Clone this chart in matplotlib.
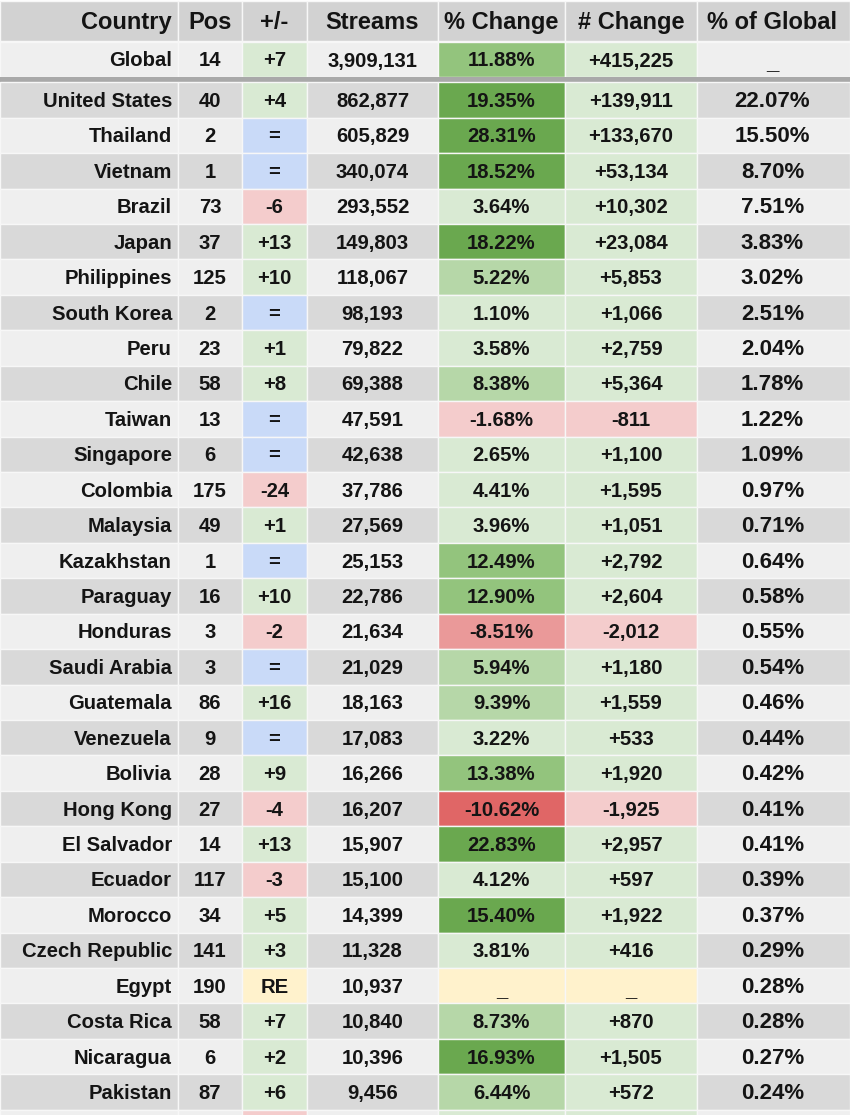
import matplotlib
matplotlib.use("Agg")
import matplotlib.pyplot as plt
from matplotlib.patches import Rectangle

plt.rcParams['font.family'] = ['Liberation Sans', 'DejaVu Sans']

# ---------------- data ----------------
headers = ["Country", "Pos", "+/-", "Streams", "% Change", "# Change", "% of Global"]

global_row = {"pos": 14, "move": "+7", "streams": 3909131, "pct": 11.88, "num": 415225}

countries = ["United States", "Thailand", "Vietnam", "Brazil", "Japan", "Philippines",
             "South Korea", "Peru", "Chile", "Taiwan", "Singapore", "Colombia", "Malaysia",
             "Kazakhstan", "Paraguay", "Honduras", "Saudi Arabia", "Guatemala", "Venezuela",
             "Bolivia", "Hong Kong", "El Salvador", "Ecuador", "Morocco", "Czech Republic",
             "Egypt", "Costa Rica", "Nicaragua", "Pakistan"]
pos = [40, 2, 1, 73, 37, 125, 2, 23, 58, 13, 6, 175, 49, 1, 16, 3, 3, 86, 9, 28, 27, 14,
       117, 34, 141, 190, 58, 6, 87]
move = ["+4", "=", "=", "-6", "+13", "+10", "=", "+1", "+8", "=", "=", "-24", "+1", "=",
        "+10", "-2", "=", "+16", "=", "+9", "-4", "+13", "-3", "+5", "+3", "RE", "+7", "+2", "+6"]
streams = [862877, 605829, 340074, 293552, 149803, 118067, 98193, 79822, 69388, 47591,
           42638, 37786, 27569, 25153, 22786, 21634, 21029, 18163, 17083, 16266, 16207,
           15907, 15100, 14399, 11328, 10937, 10840, 10396, 9456]
pct_change = [19.35, 28.31, 18.52, 3.64, 18.22, 5.22, 1.10, 3.58, 8.38, -1.68, 2.65, 4.41,
              3.96, 12.49, 12.90, -8.51, 5.94, 9.39, 3.22, 13.38, -10.62, 22.83, 4.12,
              15.40, 3.81, None, 8.73, 16.93, 6.44]
num_change = [139911, 133670, 53134, 10302, 23084, 5853, 1066, 2759, 5364, -811, 1100,
              1595, 1051, 2792, 2604, -2012, 1180, 1559, 533, 1920, -1925, 2957, 597,
              1922, 416, None, 870, 1505, 572]
pct_global = [22.07, 15.50, 8.70, 7.51, 3.83, 3.02, 2.51, 2.04, 1.78, 1.22, 1.09, 0.97,
              0.71, 0.64, 0.58, 0.55, 0.54, 0.46, 0.44, 0.42, 0.41, 0.41, 0.39, 0.37,
              0.29, 0.28, 0.28, 0.27, 0.24]

# ---------------- styling ----------------
col_edges = [0, 178, 242, 307, 438, 565, 697, 850]
TXT = "#141414"
HEADER_BG = "#d2d2d2"
DARK_BG = "#d9d9d9"
LIGHT_BG = "#efefef"
GREEN_L = "#d9ead3"
BLUE_L = "#c9daf8"
RED_L = "#f4cccc"
YELLOW_L = "#fff2cc"


def pct_color(v):
    if v is None:
        return YELLOW_L
    if v < 0:
        if v <= -10:
            return "#e06666"
        if v <= -5:
            return "#ea9999"
        return RED_L
    if v >= 15:
        return "#6aa84f"
    if v >= 10:
        return "#93c47d"
    if v >= 5:
        return "#b6d7a8"
    return GREEN_L


def move_color(m):
    if m == "=":
        return BLUE_L
    if m == "RE":
        return YELLOW_L
    if m.startswith("-"):
        return RED_L
    return GREEN_L


def num_color(n):
    if n is None:
        return YELLOW_L
    return RED_L if n < 0 else GREEN_L


def fmt_num(n):
    if n is None:
        return "_"
    return ("+" if n >= 0 else "-") + f"{abs(n):,}"


def fmt_pct(v):
    return "_" if v is None else f"{v:.2f}%"


fig = plt.figure(figsize=(8.5, 11.15), dpi=100)
ax = fig.add_axes([0, 0, 1, 1])
ax.set_xlim(0, 850)
ax.set_ylim(1115, 0)
ax.axis("off")
fig.patch.set_facecolor("white")

BODY = 14.6
HEAD = 17
GLOB = 16


def cell(ci, top, h, color):
    x0, x1 = col_edges[ci], col_edges[ci + 1]
    ax.add_patch(Rectangle((x0, top), x1 - x0, h, facecolor=color,
                           edgecolor="#f7f7f7", linewidth=1.0))


def write_row(top, h, texts, sizes):
    yc = top + h / 2 + 1.5
    for ci, t in enumerate(texts):
        x0, x1 = col_edges[ci], col_edges[ci + 1]
        dy = 3 if t == "_" else 0
        if ci == 0:
            ax.text(x1 - 6, yc + dy, t, ha="right", va="center", fontsize=sizes[ci],
                    fontweight="bold", color=TXT)
        else:
            xc = (x0 + x1) / 2
            if ci == 6:
                xc -= 1
            ax.text(xc, yc + dy, t, ha="center", va="center", fontsize=sizes[ci],
                    fontweight="bold", color=TXT)


# header
hh_top, hh = 1, 40
for ci in range(7):
    cell(ci, hh_top, hh, HEADER_BG)
write_row(hh_top, hh, headers, [HEAD] * 7)

# global row
g_top, g_h = 42, 35
bgs = [LIGHT_BG, LIGHT_BG, move_color(global_row["move"]), LIGHT_BG,
       pct_color(global_row["pct"]), num_color(global_row["num"]), LIGHT_BG]
for ci, c in enumerate(bgs):
    cell(ci, g_top, g_h, c)
write_row(g_top, g_h, ["Global", str(global_row["pos"]), global_row["move"],
                       f"{global_row['streams']:,}", fmt_pct(global_row["pct"]),
                       fmt_num(global_row["num"]), "_"],
          [BODY] * 6 + [GLOB])

# separator under global row
ax.add_patch(Rectangle((0, 77), 850, 4.5, facecolor="#a9a9a9", edgecolor="none"))

# body rows
r0 = 82.3
rh = 35.43
for i, name in enumerate(countries):
    top = r0 + i * rh
    bg = DARK_BG if i % 2 == 0 else LIGHT_BG
    colors = [bg, bg, move_color(move[i]), bg, pct_color(pct_change[i]),
              num_color(num_change[i]), bg]
    for ci, c in enumerate(colors):
        cell(ci, top, rh, c)
    write_row(top, rh, [name, str(pos[i]), move[i], f"{streams[i]:,}",
                        fmt_pct(pct_change[i]), fmt_num(num_change[i]),
                        f"{pct_global[i]:.2f}%"],
              [BODY] * 6 + [GLOB])

# partially visible next row at the bottom edge
top = r0 + len(countries) * rh
for ci, c in enumerate([LIGHT_BG, LIGHT_BG, RED_L, LIGHT_BG, GREEN_L, GREEN_L, LIGHT_BG]):
    cell(ci, top, rh, c)

fig.savefig("out.png", dpi=100, facecolor="white")
